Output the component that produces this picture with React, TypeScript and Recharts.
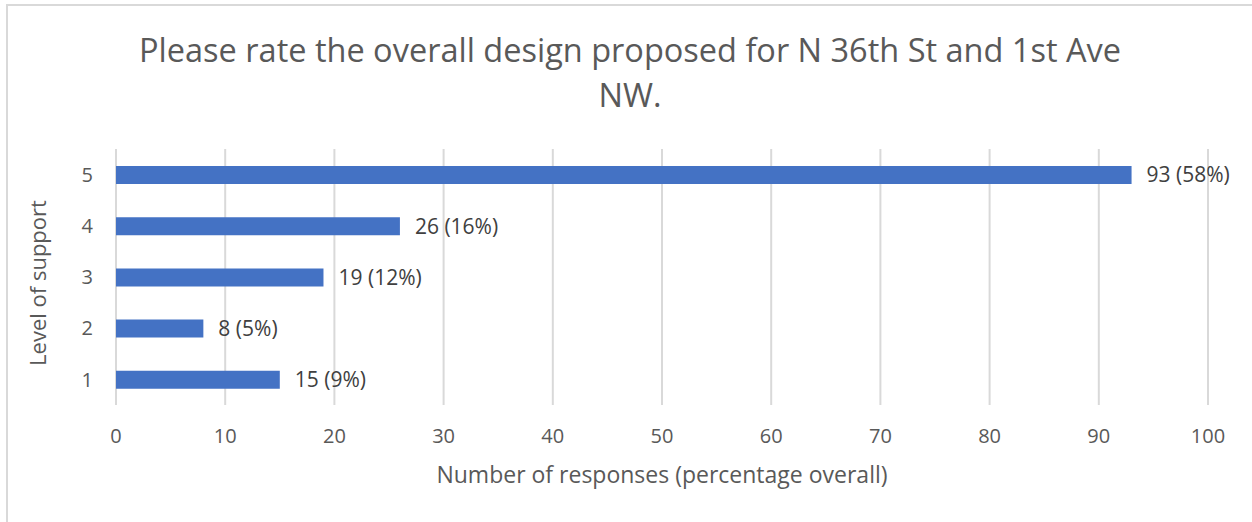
import { BarChart, Bar, XAxis, YAxis, CartesianGrid, LabelList, Label } from "recharts";

const levels = ["5", "4", "3", "2", "1"];
const responses = [93, 26, 19, 8, 15];
const percents = [58, 16, 12, 5, 9];
const xTicks = [0, 10, 20, 30, 40, 50, 60, 70, 80, 90, 100];

const chartData = levels.map((level, i) => ({
  level,
  count: responses[i],
  label: `${responses[i]} (${percents[i]}%)`,
}));

const FONT = "'Open Sans', sans-serif";

export default function App() {
  return (
    <div
      style={{
        position: "absolute",
        left: 0,
        top: 0,
        width: 1252,
        height: 522,
        background: "#fff",
        fontFamily: FONT,
        overflow: "hidden",
      }}
    >
      <div
        style={{
          position: "absolute",
          left: 6,
          top: 4,
          width: 1260,
          height: 540,
          borderTop: "2px solid #d9d9d9",
          borderLeft: "2px solid #d9d9d9",
        }}
      />
      <div
        style={{
          position: "absolute",
          left: 80,
          top: 27,
          width: 1100,
          textAlign: "center",
          fontSize: 32.5,
          lineHeight: "45px",
          color: "#595959",
        }}
      >
        Please rate the overall design proposed for N 36th St and 1st Ave
        <br />
        NW.
      </div>
      <div style={{ position: "absolute", left: 0, top: 0 }}>
        <BarChart
          width={1252}
          height={522}
          data={chartData}
          layout="vertical"
          margin={{ top: 149, right: 44, bottom: 57, left: 0 }}
          barSize={18}
        >
          <CartesianGrid horizontal={false} stroke="#d9d9d9" strokeWidth={2} />
          <XAxis
            type="number"
            domain={[0, 100]}
            ticks={xTicks}
            axisLine={false}
            tickLine={false}
            tickSize={0}
            tickMargin={24}
            height={60}
            tick={{ fill: "#595959", fontSize: 20, fontFamily: FONT }}
          >
            <Label
              content={({ viewBox }: any) => (
                <text
                  x={viewBox.x + viewBox.width / 2}
                  y={viewBox.y + 78}
                  textAnchor="middle"
                  fill="#595959"
                  fontSize={23}
                  fontFamily={FONT}
                >
                  Number of responses (percentage overall)
                </text>
              )}
            />
          </XAxis>
          <YAxis
            type="category"
            dataKey="level"
            width={116}
            axisLine={false}
            tickLine={false}
            tickSize={0}
            tickMargin={23}
            tick={{ fill: "#595959", fontSize: 20, fontFamily: FONT }}
          >
            <Label
              content={({ viewBox }: any) => {
                const cx = viewBox.x + 37;
                const cy = viewBox.y + viewBox.height / 2 + 6;
                return (
                  <text
                    x={cx}
                    y={cy}
                    textAnchor="middle"
                    dominantBaseline="central"
                    transform={`rotate(-90, ${cx}, ${cy})`}
                    fill="#595959"
                    fontSize={22}
                    fontFamily={FONT}
                  >
                    Level of support
                  </text>
                );
              }}
            />
          </YAxis>
          <Bar dataKey="count" fill="#4472c4" isAnimationActive={false}>
            <LabelList
              dataKey="label"
              position="right"
              offset={15}
              fill="#404040"
              fontSize={21}
              fontFamily={FONT}
            />
          </Bar>
        </BarChart>
      </div>
    </div>
  );
}
